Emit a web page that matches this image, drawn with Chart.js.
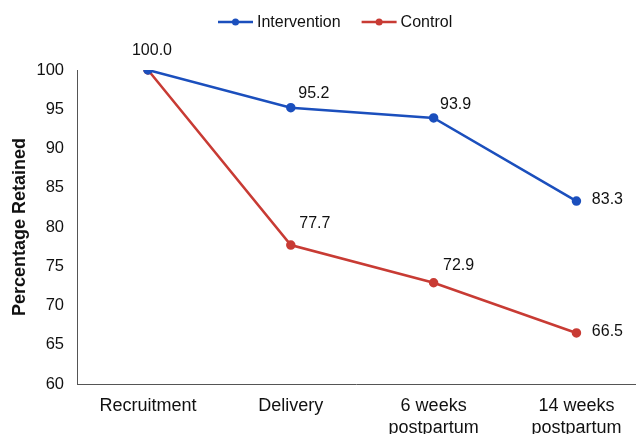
<!DOCTYPE html>
<html>
<head>
<meta charset="utf-8">
<script src="https://cdn.jsdelivr.net/npm/chart.js@4/dist/chart.umd.min.js"></script>
<style>
  html, body { margin: 0; padding: 0; background: #fff; }
  #wrap { width: 641px; height: 434px; }
</style>
</head>
<body>
<div id="wrap"><canvas id="chart"></canvas></div>
<script>
let categories = ['Recruitment', 'Delivery', '6 weeks postpartum', '14 weeks postpartum'];
let tickLabels = [['Recruitment'], ['Delivery'], ['6 weeks', 'postpartum'], ['14 weeks', 'postpartum']];
let intervention = [100.0, 95.2, 93.9, 83.3];
let control = [100.0, 77.7, 72.9, 66.5];
let yTicks = [60, 65, 70, 75, 80, 85, 90, 95, 100];

let blue = '#1b4fbd';
let red = '#c83b34';
let font = '"Liberation Sans", Arial, sans-serif';

// label offsets per point (dx, dy), null = not shown
let interventionLabelPos = [[4, -19], [23, -14], [22, -13], [31, -2]];
let controlLabelPos = [null, [24, -21], [25, -17], [31, -1]];

function toPoints(values) {
    return values.map((v, i) => ({ x: i, y: v }));
}

const pointLabels = {
    id: 'pointLabels',
    afterDatasetsDraw(chart) {
        let ctx = chart.ctx;
        ctx.save();
        ctx.font = '16px ' + font;
        ctx.fillStyle = '#111';
        ctx.textAlign = 'center';
        ctx.textBaseline = 'middle';
        let offsets = [interventionLabelPos, controlLabelPos];
        chart.data.datasets.forEach((ds, di) => {
            chart.getDatasetMeta(di).data.forEach((pt, i) => {
                let off = offsets[di][i];
                if (!off) return;
                ctx.fillText(ds.data[i].y.toFixed(1), pt.x + off[0], pt.y + off[1]);
            });
        });
        ctx.restore();
    }
};

const lineLegend = {
    id: 'lineLegend',
    afterDraw(chart) {
        let ctx = chart.ctx;
        ctx.save();
        ctx.font = '16px ' + font;
        ctx.textBaseline = 'middle';
        let y = 22;
        let lineW = 35, gap = 4, between = 21;
        let x = 218;
        chart.data.datasets.forEach(ds => {
            ctx.strokeStyle = ds.borderColor;
            ctx.lineWidth = 2.5;
            ctx.beginPath();
            ctx.moveTo(x, y);
            ctx.lineTo(x + lineW, y);
            ctx.stroke();
            ctx.fillStyle = ds.borderColor;
            ctx.beginPath();
            ctx.arc(x + lineW / 2, y, 3.5, 0, Math.PI * 2);
            ctx.fill();
            ctx.fillStyle = '#111';
            ctx.fillText(ds.label, x + lineW + gap, y + 1);
            x += lineW + gap + ctx.measureText(ds.label).width + between;
        });
        ctx.restore();
    }
};

new Chart(document.getElementById('chart'), {
    type: 'line',
    data: {
        datasets: [
            {
                label: 'Intervention',
                data: toPoints(intervention),
                borderColor: blue,
                backgroundColor: blue,
                borderWidth: 2.5,
                pointRadius: 3.5,
                pointHoverRadius: 3.5
            },
            {
                label: 'Control',
                data: toPoints(control),
                borderColor: red,
                backgroundColor: red,
                borderWidth: 2.5,
                pointRadius: 3.5,
                pointHoverRadius: 3.5
            }
        ]
    },
    options: {
        responsive: true,
        maintainAspectRatio: false,
        animation: false,
        layout: { padding: { top: 70, right: 4, left: 0, bottom: 0 } },
        plugins: {
            legend: { display: false },
            tooltip: { enabled: false }
        },
        scales: {
            x: {
                type: 'linear',
                min: -0.497,
                max: 3.41,
                grid: { display: false, drawTicks: false },
                border: { display: true, color: '#555', width: 1 },
                afterBuildTicks: axis => {
                    axis.ticks = categories.map((c, i) => ({ value: i }));
                },
                afterFit: axis => { axis.height = 50; },
                ticks: {
                    padding: 12,
                    maxRotation: 0,
                    autoSkip: false,
                    color: '#111',
                    font: { family: font, size: 18, lineHeight: 1.17 },
                    callback: (v) => tickLabels[v] || ''
                }
            },
            y: {
                min: 60,
                max: 100,
                grid: { display: false, drawTicks: false },
                border: { display: true, color: '#555', width: 1 },
                afterBuildTicks: axis => {
                    axis.ticks = yTicks.map(v => ({ value: v }));
                },
                afterFit: axis => { axis.width = 77; },
                title: {
                    display: true,
                    text: 'Percentage Retained',
                    color: '#111',
                    font: { family: font, size: 18, weight: 'bold', lineHeight: 1.2 },
                    padding: { top: 9, bottom: 0 }
                },
                ticks: {
                    padding: 13,
                    color: '#111',
                    font: { family: font, size: 16.5 }
                }
            }
        }
    },
    plugins: [pointLabels, lineLegend]
});
</script>
</body>
</html>
